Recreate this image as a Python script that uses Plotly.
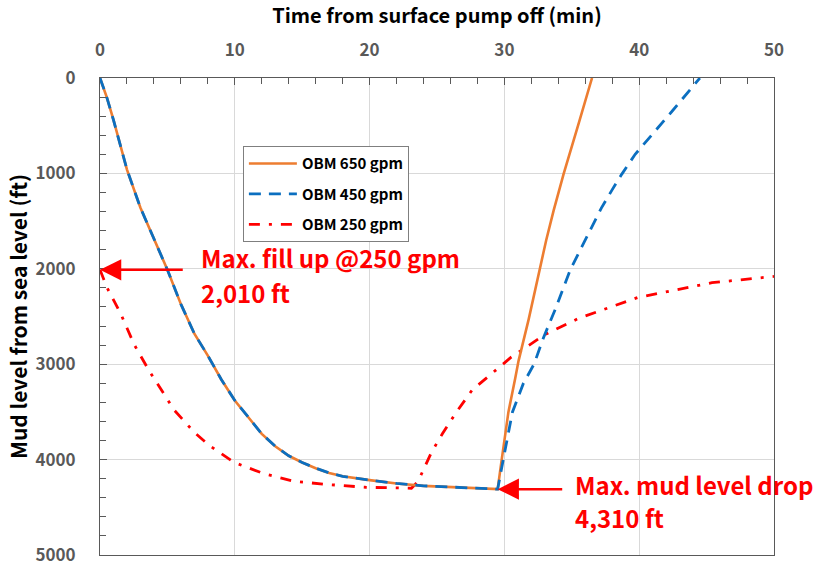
import plotly.graph_objects as go

# shared initial drawdown curve (650 and 450 gpm identical until pump restart)
t_common = [0, 0.5, 1, 2, 3, 4, 5, 6, 7, 8, 9, 10, 11, 12, 13, 14, 15, 16, 17, 18, 20, 22, 24, 26, 28, 29.5]
d_common = [0, 200, 440, 960, 1360, 1690, 2010, 2370, 2680, 2910, 3160, 3380, 3560, 3730, 3860, 3960, 4030, 4090, 4140, 4175, 4215, 4250, 4275, 4290, 4300, 4310]

t_650 = t_common + [29.8, 30.3, 30.8, 31.05, 31.8, 32.55, 33.1, 33.65, 34.4, 35.5, 36.5]
d_650 = d_common + [4000, 3500, 3150, 2965, 2530, 2040, 1700, 1390, 1003, 480, 0]

t_450 = t_common + [30.07, 30.6, 31.4, 32.2, 32.9, 33.8, 34.9, 36.2, 37.2, 38.0, 38.7, 39.7, 41.5, 42.5, 44.5]
d_450 = d_common + [3886, 3500, 3204, 2999, 2722, 2415, 2006, 1634, 1361, 1170, 1010, 800, 508, 338, 0]

t_250 = [0, 0.52, 1.55, 2.54, 3.65, 4.5, 5.5, 7.0, 8.1, 9.95, 12.2, 14.4, 16.8, 19.7, 23.1, 23.6, 24.6, 25.4, 26.4, 27.6, 28.8, 30.5, 33.0, 35.5, 37.9, 39.9, 42.4, 45.4, 50]
d_250 = [2010, 2197, 2475, 2795, 3070, 3255, 3480, 3715, 3850, 4030, 4150, 4227, 4260, 4290, 4300, 4227, 3920, 3730, 3510, 3272, 3130, 2927, 2690, 2520, 2400, 2300, 2230, 2146, 2080]

FONT = "Noto Sans CJK KR"
AXC = "#595959"

fig = go.Figure()
fig.add_trace(go.Scatter(x=t_250, y=d_250, mode="lines", name="OBM 250 gpm",
                         legendrank=3, legendgroup="c",
                         line=dict(color="#FF0000", width=2.8, dash="11px,9px,3px,9px")))
fig.add_trace(go.Scatter(x=t_650, y=d_650, mode="lines", name="OBM 650 gpm",
                         legendrank=1, legendgroup="a",
                         line=dict(color="#ED7D31", width=2.6)))
fig.add_trace(go.Scatter(x=t_450, y=d_450, mode="lines", name="OBM 450 gpm",
                         legendrank=2, legendgroup="b",
                         line=dict(color="#0B6FC0", width=2.8, dash="12px,8px")))

fig.update_layout(
    width=820, height=578,
    margin=dict(l=100, r=46, t=77, b=13),
    paper_bgcolor="white", plot_bgcolor="white",
    font=dict(family=FONT, size=14, color="#000"),
    showlegend=True,
    legend=dict(
        x=0.212, y=0.857, xanchor="left", yanchor="top",
        bordercolor="#7F7F7F", borderwidth=1, bgcolor="white",
        font=dict(family=FONT, size=15, color="#000", weight="bold"),
        tracegroupgap=8, itemwidth=48,
    ),
    xaxis=dict(
        side="top", range=[0, 50], tick0=0, dtick=10,
        ticks="inside", ticklen=7, tickcolor=AXC,
        minor=dict(ticks="inside", dtick=2, ticklen=6, tickcolor=AXC, showgrid=False),
        showgrid=True, gridcolor="#D9D9D9", gridwidth=1,
        showline=True, linecolor=AXC, linewidth=1, mirror=True,
        ticklabelstandoff=14,
        tickfont=dict(family=FONT, size=17, color=AXC, weight="bold"),
        title=dict(text="Time from surface pump off (min)", standoff=10,
                   font=dict(family=FONT, size=20, color="#000", weight="bold")),
        zeroline=False,
    ),
    yaxis=dict(
        range=[5000, 0], tick0=0, dtick=1000,
        ticks="inside", ticklen=7, tickcolor=AXC,
        minor=dict(ticks="inside", dtick=200, ticklen=6, tickcolor=AXC, showgrid=False),
        showgrid=True, gridcolor="#D9D9D9", gridwidth=1,
        showline=True, linecolor=AXC, linewidth=1, mirror=True,
        ticklabelstandoff=20,
        tickfont=dict(family=FONT, size=17, color=AXC, weight="bold"),
        title=dict(text="Mud level from sea level (ft)", standoff=2,
                   font=dict(family=FONT, size=21, color="#000", weight="bold")),
        zeroline=False,
    ),
    # overlay axes carrying the minor inside ticks
    xaxis2=dict(overlaying="x", anchor="y", side="top", range=[0, 50], tick0=0, dtick=2,
                ticks="inside", ticklen=6, tickcolor=AXC, showticklabels=False,
                showgrid=False, zeroline=False, showline=False),
    yaxis2=dict(overlaying="y", anchor="x", side="left", range=[5000, 0], tick0=0, dtick=200,
                ticks="inside", ticklen=6, tickcolor=AXC, showticklabels=False,
                showgrid=False, zeroline=False, showline=False),
)

RED = "#FF0000"
ann_font = dict(family=FONT, size=24, color=RED, weight="bold")
# arrows
fig.add_annotation(x=0, y=2010, ax=6.25, ay=2010, axref="x", ayref="y", xref="x", yref="y",
                   showarrow=True, arrowhead=2, arrowsize=1.7, arrowwidth=2.5, arrowcolor=RED, text="")
fig.add_annotation(x=29.5, y=4310, ax=34.4, ay=4310, axref="x", ayref="y", xref="x", yref="y",
                   showarrow=True, arrowhead=2, arrowsize=1.7, arrowwidth=2.5, arrowcolor=RED, text="")
# texts
fig.add_annotation(x=7.36, y=1880, xref="x", yref="y", text="Max. fill up @250 gpm",
                   showarrow=False, xanchor="left", yanchor="middle", font=ann_font)
fig.add_annotation(x=7.36, y=2250, xref="x", yref="y", text="2,010 ft",
                   showarrow=False, xanchor="left", yanchor="middle", font=ann_font)
fig.add_annotation(x=35.1, y=4260, xref="x", yref="y", text="Max. mud level drop",
                   showarrow=False, xanchor="left", yanchor="middle", font=ann_font)
fig.add_annotation(x=35.1, y=4610, xref="x", yref="y", text="4,310 ft",
                   showarrow=False, xanchor="left", yanchor="middle", font=ann_font)

fig.write_html("out.html")
